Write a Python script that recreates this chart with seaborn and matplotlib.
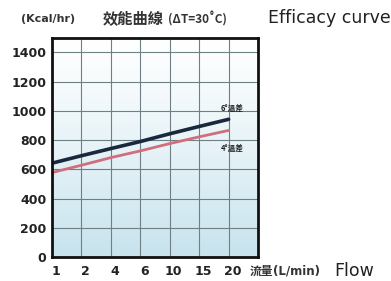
import numpy as np
import pandas as pd
import matplotlib
matplotlib.use("Agg")
import matplotlib.pyplot as plt
import matplotlib.transforms as mtransforms
import seaborn as sns

# ---- data ----
flow_labels = ["1", "2", "4", "6", "10", "15", "20"]
curve_6deg = [642, 693, 742, 790, 843, 893, 942]
curve_4deg = [578, 628, 680, 726, 776, 822, 866]
y_ticks = [0, 200, 400, 600, 800, 1000, 1200, 1400]

sns.set_theme(style="white")
plt.rcParams['font.family'] = ['DejaVu Sans', 'Noto Sans CJK TC']

fig = plt.figure(figsize=(3.91, 2.81), dpi=100)
fig.patch.set_facecolor("white")
ax = fig.add_axes([0.133, 0.085, 0.527, 0.781])

pos = np.arange(len(flow_labels))
df = pd.DataFrame({"pos": np.concatenate([pos, pos]),
                   "val": curve_6deg + curve_4deg,
                   "series": ["6"] * len(pos) + ["4"] * len(pos)})

ax.set_xlim(0, len(flow_labels))
ax.set_ylim(0, 1500)

# gradient background
grad = np.linspace(0, 1, 256).reshape(-1, 1) ** 1.2
top = np.array([1.0, 1.0, 1.0])
bot = np.array([0.78, 0.89, 0.93])
img = top[None, None, :] * (1 - grad[..., None]) + bot[None, None, :] * grad[..., None]
ax.imshow(img, extent=[0, len(flow_labels), 0, 1500], aspect="auto", zorder=0, origin="upper")

sns.lineplot(data=df[df.series == "4"], x="pos", y="val", ax=ax, color="#cf6f7c",
             linewidth=2.0, zorder=3, legend=False)
sns.lineplot(data=df[df.series == "6"], x="pos", y="val", ax=ax, color="#17293a",
             linewidth=2.6, zorder=4, legend=False)

ax.set_xticks(pos)
ax.set_xticklabels(flow_labels, fontsize=9, fontweight="bold", color="#222222")
ax.set_yticks(y_ticks)
ax.set_yticklabels([str(v) for v in y_ticks], fontsize=9, fontweight="bold", color="#222222")
ax.tick_params(axis="both", which="both", length=0)
ax.tick_params(axis="y", pad=4)
ax.tick_params(axis="x", pad=6)
offset = mtransforms.ScaledTranslation(4 / 100, 0, fig.dpi_scale_trans)
for lab in ax.get_xticklabels():
    lab.set_transform(lab.get_transform() + offset)

ax.grid(True, which="major", color="#6f7f86", linewidth=0.8, zorder=1)
for l in ax.get_xgridlines() + ax.get_ygridlines():
    l.set_zorder(1)
ax.set_xlabel("")
ax.set_ylabel("")
for s in ax.spines.values():
    s.set_visible(True)
    s.set_color("#111111")
    s.set_linewidth(2.0)
    s.set_zorder(6)

cjk = ['Noto Sans CJK TC', 'DejaVu Sans']
# series labels
ax.text(6.12, 1010, "6°溫差", fontsize=5.5, fontweight="bold", family=cjk, color="#222222",
        ha="center", va="center", zorder=5)
ax.text(6.12, 740, "4°溫差", fontsize=5.5, fontweight="bold", family=cjk, color="#222222",
        ha="center", va="center", zorder=5)

# titles
fig.text(21 / 391, 1 - 19 / 281, "(Kcal/hr)", fontsize=8, fontweight="bold", color="#333333",
         ha="left", va="center")
fig.text(103 / 391, 1 - 18 / 281, "效能曲線", fontsize=11, fontweight="bold", family=cjk,
         color="#333333", ha="left", va="center")
fig.text(168 / 391, 1 - 19 / 281, "(ΔT=30˚C)", fontsize=8.5, fontweight="bold", family=cjk,
         color="#333333", ha="left", va="center")
fig.text(268 / 391, 1 - 18 / 281, "Efficacy curve", fontsize=12.5, color="#222222",
         ha="left", va="center")

fig.text(250 / 391, 1 - 271 / 281, "流量", fontsize=8.5, fontweight="bold", family=cjk,
         color="#333333", ha="left", va="center")
fig.text(273 / 391, 1 - 271 / 281, "(L/min)", fontsize=8.5, fontweight="bold",
         color="#333333", ha="left", va="center")
fig.text(334 / 391, 1 - 271 / 281, "Flow", fontsize=12.5, color="#222222",
         ha="left", va="center")

fig.savefig("out.png", dpi=100)
